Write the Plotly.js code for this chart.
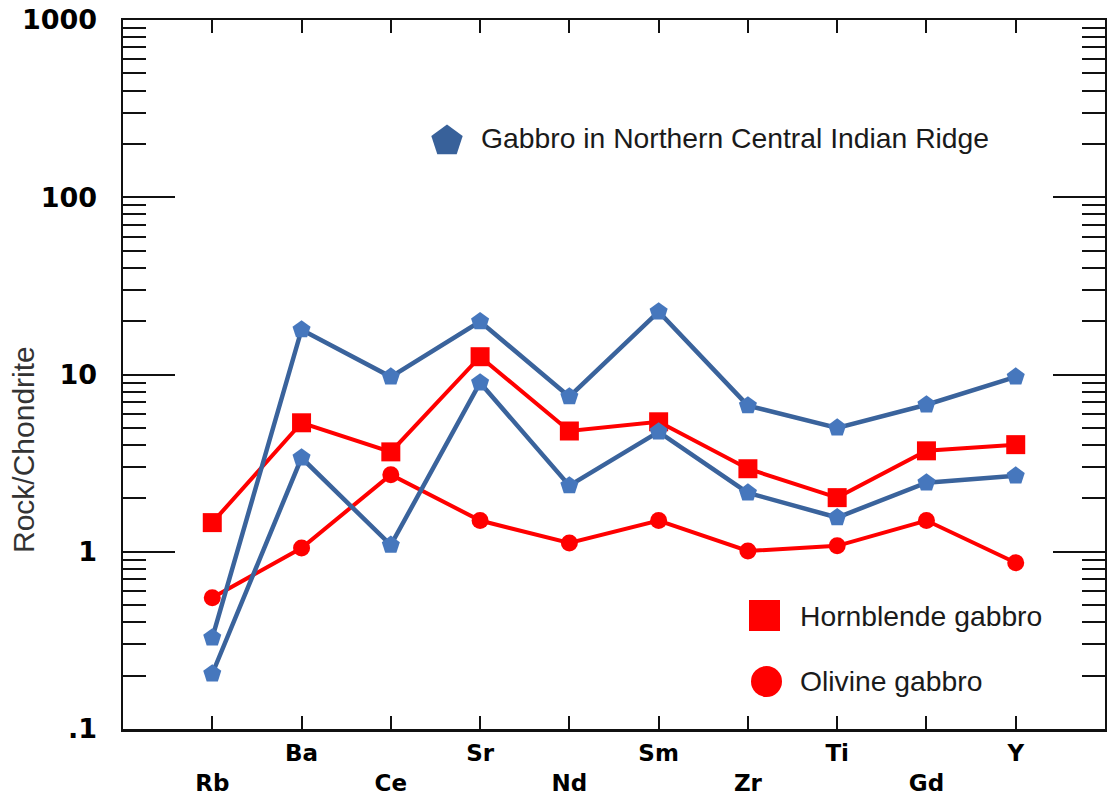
<!DOCTYPE html>
<html><head><meta charset="utf-8">
<script src="https://cdn.plot.ly/plotly-3.0.1.min.js"></script>
<style>html,body{margin:0;padding:0;background:#fff}#chart{width:1107px;height:798px}</style>
</head><body><div id="chart"></div>
<script>
// ---- data ----
const elements = ['Rb','Ba','Ce','Sr','Nd','Sm','Zr','Ti','Gd','Y'];
const gabbroNCIR_A = [0.327,17.9,9.7,19.9,7.5,22.6,6.67,5.0,6.75,9.7];
const gabbroNCIR_B = [0.205,3.39,1.09,8.98,2.36,4.75,2.15,1.56,2.45,2.68];
const hornblendeGabbro = [1.46,5.34,3.66,12.6,4.8,5.41,2.94,2.02,3.71,4.02];
const olivineGabbro = [0.55,1.05,2.72,1.5,1.12,1.5,1.01,1.08,1.5,0.867];
const yTickVals = [0.1,1,10,100,1000];
const yTickText = ['.1','1','10','100','1000'];
const legendNames = ['Gabbro in Northern Central Indian Ridge','Hornblende gabbro','Olivine gabbro'];
const yTitle = 'Rock/Chondrite';

// ---- styling ----
const BLUE_LINE = '#3A639C', BLUE_MK = '#4677BD', RED = '#FF0000';
const L = 123, T = 20, W = 982, H = 709;
const px = x => (x - L) / W;
const py = y => (T + H - y) / H;

const xLabels = elements.map((e, i) => i % 2 === 0 ? ' <br>' + e : e);

function blueTrace(vals){
  return {x: elements, y: vals, type:'scatter', mode:'lines+markers',
    line:{color:BLUE_LINE, width:4.5},
    marker:{symbol:'pentagon', size:19, color:BLUE_MK, line:{width:0}},
    showlegend:false, hoverinfo:'x+y'};
}
const traces = [
  {x: elements, y: hornblendeGabbro, type:'scatter', mode:'lines+markers',
   line:{color:RED, width:4}, marker:{symbol:'square', size:19, color:RED}, name:legendNames[1], showlegend:false},
  {x: elements, y: olivineGabbro, type:'scatter', mode:'lines+markers',
   line:{color:RED, width:4}, marker:{symbol:'circle', size:17, color:RED}, name:legendNames[2], showlegend:false},
  blueTrace(gabbroNCIR_A),
  blueTrace(gabbroNCIR_B)
];

// legend symbols (layout decoration)
function pentagonPath(cx, cy, R){
  let d = '';
  for (let k = 0; k < 5; k++){
    const a = k * 72 * Math.PI / 180;
    const sx = cx + R * Math.sin(a), sy = cy - R * Math.cos(a);
    d += (k === 0 ? 'M' : 'L') + px(sx).toFixed(5) + ',' + py(sy).toFixed(5);
  }
  return d + 'Z';
}
const shapes = [
  {type:'path', xref:'paper', yref:'paper', path:pentagonPath(447,141,16.5), fillcolor:'#38619A', line:{width:0}},
  {type:'rect', xref:'paper', yref:'paper', x0:px(749), x1:px(780), y0:py(631), y1:py(600), fillcolor:RED, line:{width:0}},
  {type:'circle', xref:'paper', yref:'paper', x0:px(751), x1:px(782), y0:py(697), y1:py(666), fillcolor:RED, line:{width:0}}
];
const legFont = {family:'Liberation Sans, Arial, sans-serif', size:28.3, color:'#1a1a1a'};
const annotations = [
  {xref:'paper', yref:'paper', x:px(479), y:py(138), xanchor:'left', yanchor:'middle', text:legendNames[0], showarrow:false, font:legFont},
  {xref:'paper', yref:'paper', x:px(798), y:py(616), xanchor:'left', yanchor:'middle', text:legendNames[1], showarrow:false, font:legFont},
  {xref:'paper', yref:'paper', x:px(798), y:py(681), xanchor:'left', yanchor:'middle', text:legendNames[2], showarrow:false, font:legFont},
  {xref:'paper', yref:'paper', x:px(24), y:py(450), xanchor:'center', yanchor:'middle', textangle:-90, text:yTitle, showarrow:false,
   font:{family:'Liberation Sans, Arial, sans-serif', size:30, color:'#333'}}
];

const layout = {
  width:1107, height:798,
  margin:{l:L, r:1107-L-W, t:T, b:798-T-H, pad:0},
  paper_bgcolor:'#fff', plot_bgcolor:'#fff',
  showlegend:false,
  xaxis:{type:'category', range:[-1,10], tickvals:elements, ticktext:xLabels,
    ticks:'inside', ticklen:13, tickwidth:2, tickcolor:'#111',
    showline:true, linewidth:2.5, linecolor:'#111', mirror:'ticks',
    showgrid:false, zeroline:false, ticklabelstandoff:2,
    tickfont:{family:'DejaVu Sans', size:23, weight:'bold', color:'#000'}},
  yaxis:{type:'log', range:[-1,3], tickvals:yTickVals, ticktext:yTickText,
    ticks:'inside', ticklen:52, tickwidth:2, tickcolor:'#111',
    showline:true, linewidth:2.5, linecolor:'#111', mirror:'ticks',
    showgrid:false, zeroline:false, ticklabelstandoff:18,
    tickfont:{family:'DejaVu Sans', size:27, weight:'bold', color:'#000'},
    minor:{ticks:'inside', ticklen:23, tickwidth:2, tickcolor:'#111', dtick:'D1', showgrid:false}},
  shapes:shapes,
  annotations:annotations
};
Plotly.newPlot('chart', traces, layout, {displayModeBar:false, staticPlot:true});
</script>
</body></html>
